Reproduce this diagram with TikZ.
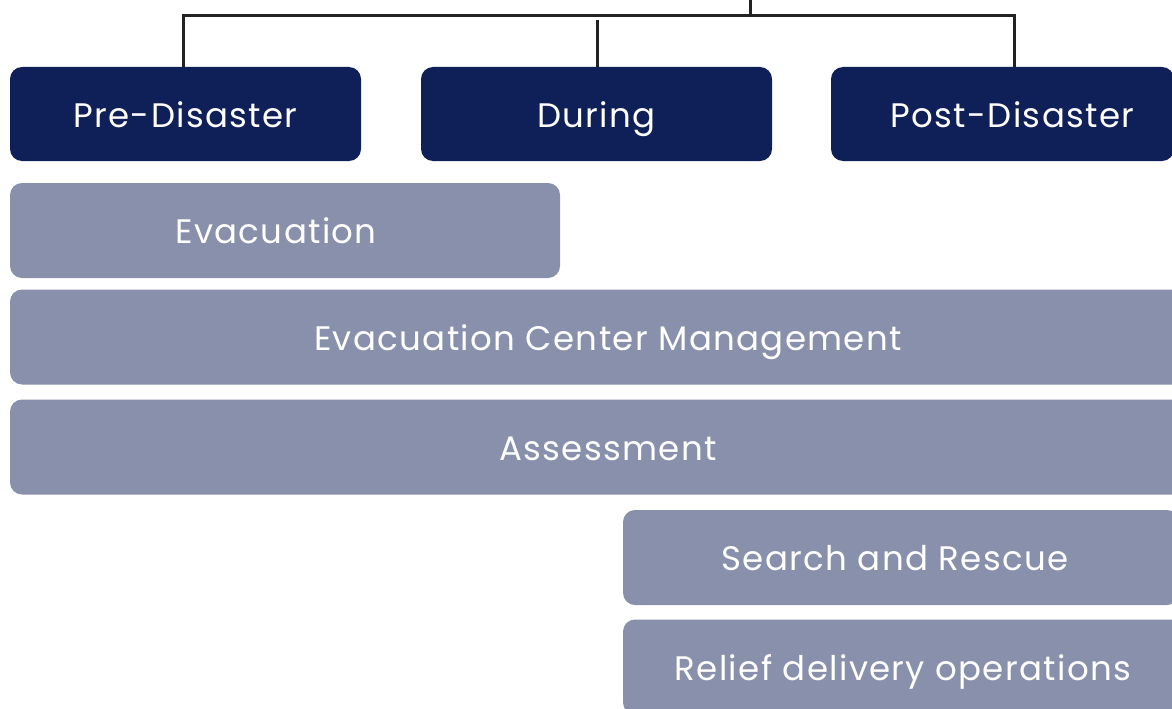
\documentclass[tikz,border=0pt]{standalone}
\usepackage{fontspec}
\setmainfont{Poppins}[LetterSpace=4]
\definecolor{navy}{HTML}{0F1F57}
\definecolor{slate}{HTML}{8890AB}
\definecolor{wire}{HTML}{222222}
\begin{document}
\begin{tikzpicture}[x=1pt,y=-1pt,
  box/.style={rounded corners=12pt, text=white, inner sep=0pt, text height=26pt, text depth=0pt, font=\fontsize{34}{36}\selectfont},
  phase/.style={box, fill=navy, minimum width=351pt, minimum height=94pt},
  task/.style={box, fill=slate, minimum height=95pt},
  wireline/.style={draw=wire, line width=3pt}]
\useasboundingbox (0,0) rectangle (1172,709);
\clip (0,0) rectangle (1172,709);
\node[phase] (pre) at (185.5,114) {Pre-Disaster};
\node[phase] (dur) at (596.5,114) {During};
\node[phase, minimum width=343pt] (post) at (1002.5,114) {\hspace*{20pt}Post-Disaster};
\node[task, minimum width=550pt] (evac) at (285,230.5) {Evacuation\hspace*{18pt}};
\node[task, minimum width=1196pt] (ecm) at (608,337) {Evacuation Center Management};
\node[task, minimum width=1196pt] (assess) at (608,447) {Assessment};
\node[task, minimum width=556pt] (sar) at (901,557.5) {Search and Rescue\hspace*{12pt}};
\node[task, minimum width=560pt] (relief) at (903,667) {Relief delivery operations};
\coordinate (top) at (750,0);
\coordinate (tj) at (750,16);
\coordinate (hl) at (183,16);
\coordinate (hr) at (1014,16);
\coordinate (mj) at (597,20);
\draw[wireline] (top) -- (tj);
\draw[wireline] (hl |- pre.north) -- (hl) -- (hr) -- (hr |- post.north);
\draw[wireline] (mj) -- (mj |- dur.north);
\end{tikzpicture}
\end{document}
